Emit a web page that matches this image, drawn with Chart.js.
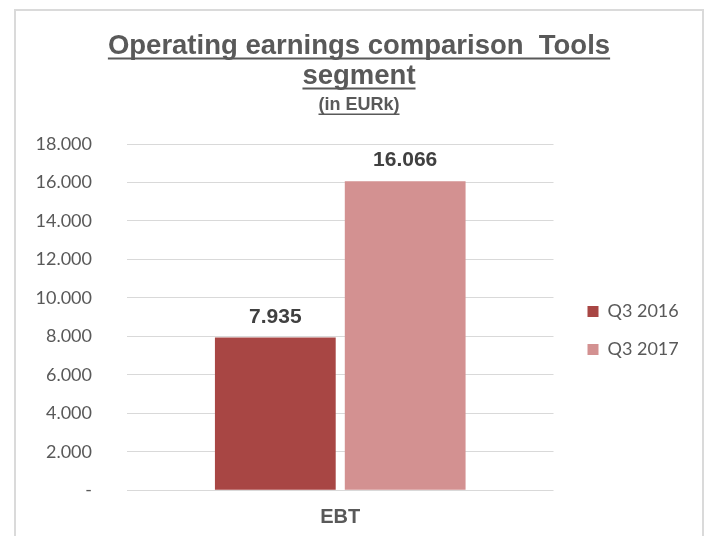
<!DOCTYPE html>
<html>
<head>
<meta charset="utf-8">
<script src="https://cdn.jsdelivr.net/npm/chart.js@4/dist/chart.umd.min.js"></script>
<style>
body { margin:0; background:#fff; }
#frame { position:absolute; left:14px; top:9px; width:690px; height:560px; border:2px solid #dadada; box-sizing:border-box; }
canvas { position:absolute; left:0; top:0; }
</style>
</head>
<body>
<script>
const categories = ['EBT']
const seriesNames = ['Q3 2016', 'Q3 2017']
const q3_2016 = [7935]
const q3_2017 = [16066]
const seriesColors = ['#a84644', '#d39191']
const titleLines = ['Operating earnings comparison  Tools', 'segment']
const subTitle = '(in EURk)'
const yMax = 18000
const yStep = 2000

// 7935 -> 7.935, 0 -> -
const fmt = v => v == 0 ? '-' : String(v).replace(/\B(?=(\d{3})+(?!\d))/g, '.')

const el = o => {
	const e = document.createElement(o.a)
	if (o.c) e.textContent = o.c
	for (const k in o.d || {}) e.setAttribute(k, o.d[k])
	o.b.appendChild(e)
	return e
}

//title, underlined like the excel one
const heading = {
	id: 'heading',
	afterDraw: chart => {
		const ctx = chart.ctx
		ctx.save()
		ctx.fillStyle = '#595959'
		ctx.textAlign = 'center'
		ctx.textBaseline = 'alphabetic'
		;[
			[titleLines[0], 54, 'bold 27.5px "Liberation Sans", Arial', 2],
			[titleLines[1], 84, 'bold 27.5px "Liberation Sans", Arial', 2],
			[subTitle, 110, 'bold 18px "Liberation Sans", Arial', 1.5],
		].forEach(([t, y, f, h]) => {
			ctx.font = f
			ctx.fillText(t, 359, y)
			const w = ctx.measureText(t).width
			ctx.fillRect(359 - w / 2, y + 3.5, w, h)
		})
		ctx.restore()
	}
}

//numbers over the bars
const valueLabels = {
	id: 'valueLabels',
	afterDatasetsDraw: chart => {
		const ctx = chart.ctx
		ctx.save()
		ctx.fillStyle = '#404040'
		ctx.font = 'bold 21px "Liberation Sans", Arial'
		ctx.textAlign = 'center'
		ctx.textBaseline = 'alphabetic'
		chart.data.datasets.forEach((ds, i) => {
			chart.getDatasetMeta(i).data.forEach((bar, j) => {
				ctx.fillText(fmt(ds.data[j]), bar.x, bar.y - 15)
			})
		})
		ctx.restore()
	}
}

addEventListener('load', () => {
	el({a:'div', b:document.body, d:{id:'frame'}})
	const cv = el({a:'canvas', b:document.body, d:{width:705, height:536}})

	new Chart(cv, {
		type: 'bar',
		data: {
			labels: categories,
			datasets: [
				{label: seriesNames[0], data: q3_2016, backgroundColor: seriesColors[0]},
				{label: seriesNames[1], data: q3_2017, backgroundColor: seriesColors[1]},
			]
		},
		options: {
			responsive: false,
			animation: false,
			layout: {padding: {top: 144, left: 0, right: 24, bottom: 0}},
			datasets: {bar: {categoryPercentage: 0.609, barPercentage: 0.93}},
			plugins: {
				legend: {
					position: 'right',
					fullSize: false,
					//empty title only pushes the items a bit down
					title: {display: true, text: '', padding: 0, font: {size: 22.5}},
					labels: {
						boxWidth: 11,
						boxHeight: 11,
						padding: 20,
						color: '#595959',
						font: {family: 'Lato', size: 18}
					}
				},
				tooltip: {enabled: false}
			},
			scales: {
				x: {
					afterFit: s => { s.height = 45 },
					grid: {display: false, drawTicks: false},
					border: {display: false},
					ticks: {padding: 15, color: '#595959', font: {family: 'Liberation Sans', size: 20, weight: 'bold'}}
				},
				y: {
					min: 0,
					max: yMax,
					afterFit: s => { s.width = 127 },
					grid: {color: '#d9d9d9', drawTicks: false},
					border: {display: false},
					ticks: {stepSize: yStep, padding: 35, color: '#595959', font: {family: 'Lato', size: 18}, callback: v => fmt(v)}
				},
				//empty gap between plot and legend
				pad: {
					position: 'right',
					grid: {display: false},
					border: {display: false},
					ticks: {display: false},
					afterFit: s => { s.width = 14 }
				}
			}
		},
		plugins: [heading, valueLabels]
	})
})
</script>
</body>
</html>
